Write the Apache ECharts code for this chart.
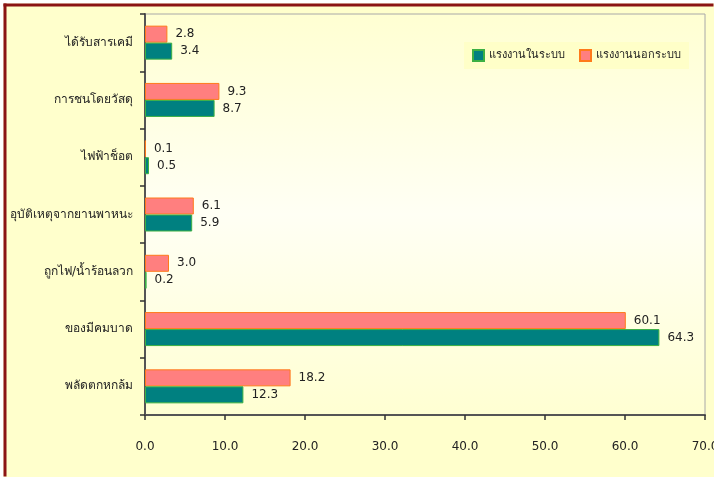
<!DOCTYPE html>
<html>
<head>
<meta charset="utf-8">
<script src="https://cdn.jsdelivr.net/npm/echarts@6/dist/echarts.min.js"></script>
<style>
html,body{margin:0;padding:0;background:#fff;}
#chart{width:714px;height:477px;}
</style>
</head>
<body>
<div id="chart"></div>
<script>
var categories = ['ได้รับสารเคมี', 'การชนโดยวัสดุ', 'ไฟฟ้าช็อต', 'อุบัติเหตุจากยานพาหนะ', 'ถูกไฟ/น้ำร้อนลวก', 'ของมีคมบาด', 'พลัดตกหกล้ม'];
var formalValues = [3.4, 8.7, 0.5, 5.9, 0.2, 64.3, 12.3];
var informalValues = [2.8, 9.3, 0.1, 6.1, 3.0, 60.1, 18.2];
var seriesNames = ['แรงงานในระบบ', 'แรงงานนอกระบบ'];

var fontName = 'Tahoma, "DejaVu Sans", sans-serif';

function barLabel(){
	return {
		show : true,
		position : 'right',
		distance : 8,
		color : '#222',
		fontFamily : fontName,
		fontSize : 12,
		formatter : function(p){ return p.value.toFixed(1); }
	};
}

var option = {
	backgroundColor : '#FFFFCC',
	animation : false,
	graphic : [ {
		type : 'rect',
		shape : { x : 0, y : 0, width : 714, height : 3.5 },
		style : { fill : '#fff' },
		z : 99
	}, {
		type : 'rect',
		shape : { x : 0, y : 0, width : 3.5, height : 477 },
		style : { fill : '#fff' },
		z : 99
	}, {
		type : 'rect',
		shape : { x : 3.5, y : 3.5, width : 710, height : 3 },
		style : { fill : '#8B1414' },
		z : 100
	}, {
		type : 'rect',
		shape : { x : 3.5, y : 3.5, width : 3, height : 473 },
		style : { fill : '#8B1414' },
		z : 100
	} ],
	legend : {
		data : seriesNames,
		left : 464,
		top : 42,
		icon : 'rect',
		itemWidth : 11,
		itemHeight : 11,
		itemGap : 14,
		padding : [7, 8],
		backgroundColor : '#FFFFC8',
		textStyle : { fontFamily : fontName, fontSize : 11, color : '#222' }
	},
	grid : {
		left : 145,
		top : 14,
		right : 9,
		bottom : 62,
		outerBoundsMode : 'none',
		show : true,
		borderColor : '#A8A8A8',
		borderWidth : 1,
		backgroundColor : {
			type : 'linear', x : 0, y : 0, x2 : 0, y2 : 1,
			colorStops : [
				{ offset : 0, color : '#FFFFD2' },
				{ offset : 0.5, color : '#FFFFF4' },
				{ offset : 1, color : '#FFFFD2' }
			]
		}
	},
	xAxis : {
		type : 'value',
		min : 0,
		max : 70,
		interval : 10,
		axisLine : { show : true, lineStyle : { color : '#555', width : 2 } },
		axisTick : { show : true, length : 5, lineStyle : { color : '#333', width : 1.5 } },
		splitLine : { show : false },
		axisLabel : {
			margin : 26,
			color : '#222',
			fontFamily : fontName,
			fontSize : 12,
			formatter : function(v){ return v.toFixed(1); }
		}
	},
	yAxis : {
		type : 'category',
		data : categories,
		inverse : true,
		axisLine : { show : true, lineStyle : { color : '#555', width : 2 } },
		axisTick : { show : true, length : 5, lineStyle : { color : '#333', width : 1.5 } },
		axisLabel : {
			margin : 12,
			color : '#222',
			fontFamily : fontName,
			fontSize : 12
		}
	},
	series : [ {
		name : seriesNames[1],
		type : 'bar',
		data : informalValues,
		barWidth : 17,
		barGap : '0%',
		itemStyle : { color : '#FF7F7F', borderColor : '#FF7A1A', borderWidth : 1 },
		label : barLabel()
	}, {
		name : seriesNames[0],
		type : 'bar',
		data : formalValues,
		barWidth : 17,
		barGap : '0%',
		itemStyle : { color : '#008080', borderColor : '#3CB043', borderWidth : 1 },
		label : barLabel()
	} ]
};

var chart = echarts.init(document.getElementById('chart'));
chart.setOption(option);
</script>
</body>
</html>
